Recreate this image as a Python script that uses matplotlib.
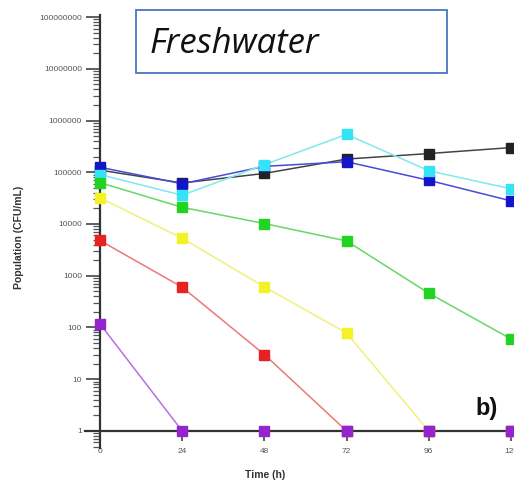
import numpy as np
import matplotlib
matplotlib.use("Agg")
import matplotlib.pyplot as plt
from matplotlib.patches import Rectangle
from matplotlib.ticker import FixedLocator, LogLocator, NullFormatter

hours = [0, 24, 48, 72, 96, 120]

# CFU/mL counts per series
black = [110000, 62000, 95000, 180000, 230000, 300000]
blue = [125000, 60000, 130000, 160000, 70000, 28000]
cyan = [90000, 36000, 140000, 540000, 107000, 48000]
green = [63000, 21000, 10200, 4700, 460, 60]
yellow = [32000, 5300, 610, 78, 1, 1]
red = [4800, 600, 30, 1, 1, 1]
purple = [117, 1, 1, 1, 1, 1]

series = [
    (black, "#222222", "#444444"),
    (blue, "#1414c8", "#4a4ad6"),
    (cyan, "#34e4f4", "#7fe8f0"),
    (green, "#22d422", "#66d866"),
    (yellow, "#f2f226", "#f0f07a"),
    (red, "#e62222", "#e87a7a"),
    (purple, "#9424d0", "#b870e0"),
]

plt.rcParams['font.family'] = ['Liberation Sans', 'DejaVu Sans']

fig = plt.figure(figsize=(5.14, 4.8), dpi=100)
ax = fig.add_axes([85 / 514, 32 / 480, 1 - 85 / 514, 433 / 480])

for vals, col, lcol in series:
    ax.plot(hours, vals, color=lcol, lw=1.1, zorder=2)
    ax.plot(hours, vals, ls='none', marker='s', ms=7.5, mfc=col,
            mec=col, mew=1.0, zorder=3, clip_on=False)

ax.set_yscale('log')
ax.set_xlim(-4.38, 120.9)
ax.set_ylim(10 ** -0.33, 10 ** 8.04)

ax.spines['top'].set_visible(False)
ax.spines['right'].set_visible(False)
ax.spines['left'].set_position(('data', 0))
ax.spines['bottom'].set_position(('data', 1))
ax.spines['left'].set_color('#333333')
ax.spines['bottom'].set_color('#333333')
ax.spines['left'].set_linewidth(1.6)
ax.spines['bottom'].set_linewidth(1.6)

ax.xaxis.set_major_locator(FixedLocator(hours))
ax.yaxis.set_major_locator(FixedLocator([10 ** k for k in range(9)]))
ax.yaxis.set_major_formatter(plt.FuncFormatter(lambda v, p: f"{int(round(v))}"))
ax.yaxis.set_minor_locator(LogLocator(base=10, subs=np.arange(2, 10), numticks=20))
ax.yaxis.set_minor_formatter(NullFormatter())

ax.tick_params(axis='y', which='major', direction='out', length=10, width=1.2,
               color='#444444', labelsize=6, labelcolor='#555555', pad=3)
ax.tick_params(axis='y', which='minor', direction='out', length=5, width=0.9,
               color='#555555')
ax.tick_params(axis='x', which='major', direction='out', length=7, width=1.2,
               color='#444444', labelsize=6, labelcolor='#555555', pad=5)

ax.set_xlabel("Time (h)", fontsize=7.5, fontweight='bold', color='#333333', labelpad=2)
ax.xaxis.set_label_coords((265 - 85) / 429, -0.05)
ax.set_ylabel("Population (CFU/mL)", fontsize=7.5, fontweight='bold', color='#333333')
ax.yaxis.set_label_coords(-(85 - 24) / 429, 0.487)

# title box
fig.add_artist(Rectangle((136 / 514, 1 - 73 / 480), (447 - 136) / 514, 63 / 480,
                         transform=fig.transFigure, fill=False,
                         edgecolor='#4a74c4', lw=1.3))
fig.text(150 / 514, 1 - 53 / 480, "Freshwater", fontsize=25, style='italic',
         family='Open Sans', va='baseline', ha='left', color='#111111')

fig.text(475 / 514, 1 - 408 / 480, "b)", fontsize=17, fontweight='bold',
         va='center', ha='left', color='#111111')

fig.savefig("out.png", dpi=100)
